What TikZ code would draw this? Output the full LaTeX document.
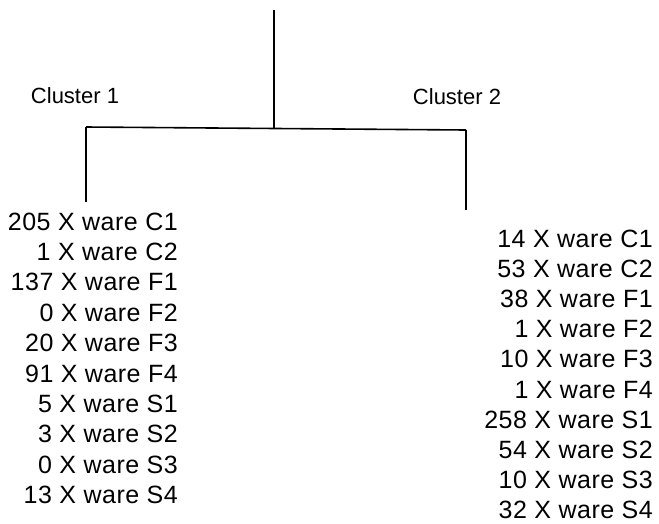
\documentclass[tikz,border=0pt]{standalone}
\usepackage{fontspec}
\setmainfont{Liberation Sans}
\newfontfamily\listfont[LetterSpace=2]{Liberation Sans}
\begin{document}
\begin{tikzpicture}[x=1pt,y=-1pt,
  branch/.style={line width=1.6pt, line cap=butt},
  clabel/.style={inner sep=0pt, anchor=base, font=\fontsize{22}{24}\selectfont},
  item/.style={inner sep=0pt, anchor=base east, font=\listfont\fontsize{25}{28}\selectfont}]
\useasboundingbox (0,0) rectangle (659,523);
\coordinate (top) at (274,10);
\coordinate (junc) at (274,128);
\coordinate (lbr) at (86,127);
\coordinate (rbr) at (466,130);
\coordinate (lend) at (86,202);
\coordinate (rend) at (466,210);
\draw[branch] (top) -- (junc);
\draw[branch] (lbr) -- (rbr);
\draw[branch] (lbr) -- (lend);
\draw[branch] (rbr) -- (rend);
\node[clabel] (c1) at (75,103) {Cluster 1};
\node[clabel] (c2) at (457,104) {Cluster 2};
\foreach \t [count=\i from 0] in {205 X ware C1,1 X ware C2,137 X ware F1,0 X ware F2,20 X ware F3,91 X ware F4,5 X ware S1,3 X ware S2,0 X ware S3,13 X ware S4}
  \node[item] (L\i) at (178,230+\i*30.4) {\t};
\foreach \t [count=\i from 0] in {14 X ware C1,53 X ware C2,38 X ware F1,1 X ware F2,10 X ware F3,1 X ware F4,258 X ware S1,54 X ware S2,10 X ware S3,32 X ware S4}
  \node[item] (R\i) at (653,247+\i*30.2) {\t};
\end{tikzpicture}
\end{document}
